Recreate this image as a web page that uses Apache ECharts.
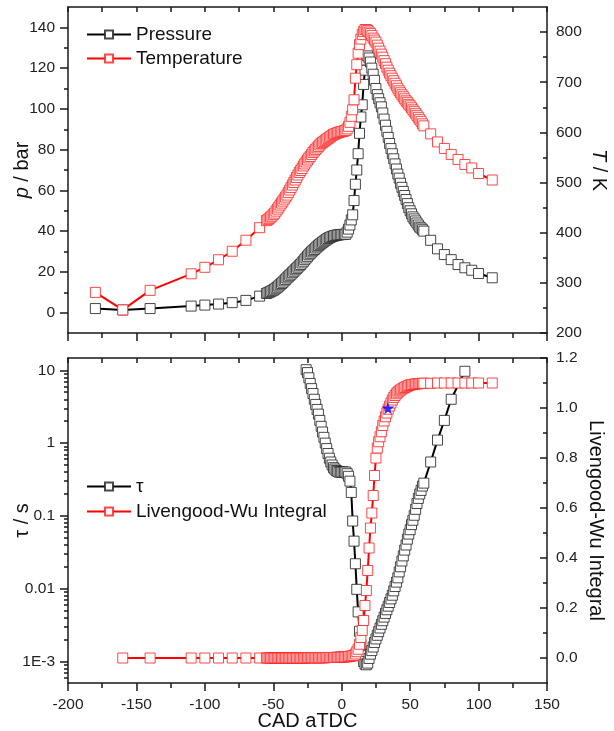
<!DOCTYPE html>
<html>
<head>
<meta charset="utf-8">
<script src="https://cdn.jsdelivr.net/npm/echarts@6/dist/echarts.min.js"></script>
<style>
  html, body { margin: 0; padding: 0; background: #fff; }
  #main { width: 614px; height: 731px; }
</style>
</head>
<body>
<div id="main"></div>
<script>
// crank angle (deg aTDC) for pressure / temperature
var cadTop = [-180, -160, -140, -110, -100, -90, -80, -70, -60,
  -55, -54, -53, -52, -51, -50, -49, -48, -47, -46,
  -45, -44, -43, -42, -41, -40, -39, -38, -37, -36,
  -35, -34, -33, -32, -31, -30, -29, -28, -27, -26,
  -25, -24, -23, -22, -21, -20, -19, -18, -17, -16,
  -15, -14, -13, -12, -11, -10, -9, -8, -7, -6,
  -5, -4, -3, -2, -1, 0,
  1, 2, 3, 4, 5, 6, 7, 8, 9, 10,
  11, 12, 13, 14, 15, 16, 17, 18, 19, 20,
  21, 22, 23, 24, 25, 26, 27, 28, 29, 30,
  31, 32, 33, 34, 35, 36, 37, 38, 39, 40,
  41, 42, 43, 44, 45, 46, 47, 48, 49, 50,
  51, 52, 53, 54, 55, 56, 57, 58, 59, 60,
  65, 70, 75, 80, 85, 90, 95, 100, 110];

var pressureBar = [2.0, 1.3, 2.0, 3.2, 3.7, 4.2, 4.9, 6.0, 8.1,
  9.4, 9.7, 10.0, 10.3, 10.7, 11.0, 11.5, 12.0, 12.5, 13.1,
  13.7, 14.3, 14.9, 15.6, 16.3, 17.0, 17.6, 18.3, 18.9, 19.6,
  20.3, 21.0, 21.6, 22.3, 23.0, 23.6, 24.4, 25.2, 26.0, 26.8,
  27.6, 28.4, 29.1, 29.8, 30.4, 31.0, 31.7, 32.3, 32.9, 33.5,
  34.0, 34.5, 35.0, 35.5, 36.0, 36.4, 36.8, 37.1, 37.4, 37.6,
  37.8, 38.0, 38.1, 38.2, 38.3, 38.3,
  38.4, 38.4, 38.5, 39.5, 41.0, 43.0, 45.5, 48.0, 55.0, 63.0,
  70, 78, 88, 96, 102, 112, 119, 124, 126, 125,
  123, 120, 117, 114, 110, 107, 105, 103, 101, 98,
  95, 92, 89, 86, 83, 80.5, 78, 75.5, 73, 70.5,
  68, 66, 63.5, 61.5, 59.5, 57.5, 55.5, 53.5, 51.5, 50,
  48.5, 47, 46, 45, 44, 43, 42, 41.5, 40.7, 40,
  35.5, 31.3, 28.5, 26.0, 23.6, 22.0, 20.8, 19.2, 17.1];

var temperatureK = [281, 246, 285, 318, 331, 346, 363, 385, 410,
  424, 426, 428, 431, 433, 436, 439, 443, 447, 451,
  455, 459, 463, 467, 471, 475, 480, 485, 490, 495,
  500, 505, 510, 515, 520, 524, 528, 533, 537, 541,
  545, 549, 552, 556, 560, 563, 566, 569, 572, 575,
  578, 580, 582, 584, 586, 588, 590, 592, 594, 596,
  597, 598, 599, 600, 601, 602,
  602, 603, 604, 607, 612, 620, 632, 645, 665, 708,
  735, 758, 775, 786, 795, 801, 805, 805, 803, 800,
  797, 793, 788, 784, 780, 774, 768, 762, 756, 750,
  743, 737, 730, 724, 718, 713, 708, 703, 698, 693,
  688, 683, 679, 675, 671, 667, 663, 660, 656, 653,
  649, 645, 642, 638, 634, 630, 626, 622, 617, 613,
  597, 581, 568, 556, 546, 536, 529, 518, 505];

// ignition delay
var cadTau = [-26, -25, -24, -23, -22, -21, -20, -19, -18, -17,
  -16, -15, -14, -13, -12, -11, -10, -9, -8, -7,
  -6, -5, -4, -3, -2, -1, 0, 1, 2, 3,
  4, 5, 6, 7, 8, 9, 10, 11, 12, 13,
  14, 15, 16, 17, 18, 19, 20, 21, 22, 23,
  24, 25, 26, 27, 28, 29, 30, 31, 32, 33,
  34, 35, 36, 37, 38, 39, 40, 41, 42, 43,
  44, 45, 46, 47, 48, 49, 50, 51, 52, 53,
  54, 55, 56, 57, 58, 59, 60,
  65, 70, 75, 80, 90];

var tauSec = [10.2, 9.3, 7.9, 6.6, 5.6, 4.8, 4.0, 3.4, 2.9, 2.5,
  2.05, 1.7, 1.42, 1.2, 1.0, 0.84, 0.72, 0.62, 0.55, 0.5,
  0.46, 0.44, 0.42, 0.41, 0.40, 0.40, 0.40, 0.40, 0.40, 0.40,
  0.38, 0.35, 0.30, 0.21, 0.085, 0.045, 0.022, 0.0098, 0.0048, 0.0026,
  0.0017, 0.0012, 0.001, 0.00092, 0.0009, 0.00095, 0.0011, 0.00126, 0.00141, 0.00158,
  0.00182, 0.00204, 0.00229, 0.00257, 0.00288, 0.00324, 0.00363, 0.00407, 0.00457, 0.00513,
  0.00575, 0.00646, 0.00724, 0.00813, 0.00933, 0.0107, 0.0123, 0.0141, 0.017, 0.02,
  0.024, 0.0282, 0.0339, 0.0398, 0.0479, 0.0562, 0.0646, 0.0759, 0.0871, 0.102,
  0.123, 0.148, 0.174, 0.2, 0.224, 0.257, 0.282,
  0.55, 1.1, 2.05, 4.0, 9.7];

// Livengood-Wu integral
var cadLW = [-160, -140, -110, -100, -90, -80, -70, -60,
  -55, -54, -53, -52, -51, -50, -49, -48, -47, -46,
  -45, -44, -43, -42, -41, -40, -39, -38, -37, -36,
  -35, -34, -33, -32, -31, -30, -29, -28, -27, -26,
  -25, -24, -23, -22, -21, -20, -19, -18, -17, -16,
  -15, -14, -13, -12, -11, -10, -9, -8, -7, -6,
  -5, -4, -3, -2, -1, 0,
  1, 2, 3, 4, 5, 6, 7, 8, 9, 10,
  11, 12, 13, 14, 15, 16, 17, 18, 19, 20,
  21, 22, 23, 24, 25, 26, 27, 28, 29, 30,
  31, 32, 33, 34, 35, 36, 37, 38, 39, 40,
  41, 42, 43, 44, 45, 46, 47, 48, 49, 50,
  51, 52, 53, 54, 55, 56, 57, 58, 59, 60,
  65, 70, 75, 80, 85, 90, 95, 100, 110];

var lwIntegral = [0, 0, 0, 0, 0, 0, 0, 0,
  0, 0, 0, 0, 0, 0, 0, 0, 0, 0,
  0, 0, 0, 0, 0, 0, 0, 0, 0, 0,
  0, 0, 0, 0, 0, 0, 0, 0, 0, 0.001,
  0.001, 0.001, 0.001, 0.001, 0.001, 0.001, 0.001, 0.001, 0.001, 0.001,
  0.001, 0.001, 0.001, 0.001, 0.002, 0.002, 0.002, 0.002, 0.002, 0.002,
  0.002, 0.003, 0.003, 0.003, 0.003, 0.004,
  0.004, 0.004, 0.005, 0.005, 0.006, 0.007, 0.008, 0.009, 0.01, 0.016,
  0.025, 0.035, 0.055, 0.082, 0.11, 0.15, 0.21, 0.27, 0.35, 0.44,
  0.52, 0.58, 0.65, 0.73, 0.8, 0.84, 0.865, 0.885, 0.905, 0.93,
  0.948, 0.965, 0.98, 0.995, 1.008, 1.02, 1.032, 1.042, 1.05, 1.057,
  1.063, 1.068, 1.072, 1.076, 1.079, 1.082, 1.085, 1.087, 1.09, 1.092,
  1.093, 1.094, 1.095, 1.096, 1.097, 1.097, 1.098, 1.098, 1.099, 1.099,
  1.099, 1.1, 1.1, 1.1, 1.1, 1.1, 1.1, 1.1, 1.1];

var ignitionPoint = [33.8, 1.0];

// tick labels
var pTicks = [0, 20, 40, 60, 80, 100, 120, 140];
var pMinor = [10, 30, 50, 70, 90, 110, 130];
var tTicks = [200, 300, 400, 500, 600, 700, 800];
var tMinor = [250, 350, 450, 550, 650, 750];
var tauTicks = [0.001, 0.01, 0.1, 1, 10];
var tauTickLabels = ['1E-3', '0.01', '0.1', '1', '10'];
var lwTicks = [0, 0.2, 0.4, 0.6, 0.8, 1.0, 1.2];
var lwMinor = [0.1, 0.3, 0.5, 0.7, 0.9, 1.1];

var tauMinor = [];
[0.0001, 0.001, 0.01, 0.1, 1].forEach(function (dec) {
  for (var k = 2; k <= 9; k++) {
    var v = dec * k;
    if (v > 0.00051 && v < 14.7) tauMinor.push(v);
  }
});

var FONT = '"Liberation Sans", Arial, sans-serif';
var AX = '#1a1a1a';
var lineSt = { color: AX, width: 1.5 };

function pairs(xs, ys) {
  return xs.map(function (x, i) { return [x, ys[i]]; });
}

function xAx(grid, pos, withLabel) {
  var inside = pos === 'top';
  return {
    type: 'value', gridIndex: grid, position: pos,
    min: -200, max: 150, interval: 50,
    axisLine: { show: true, onZero: false, lineStyle: lineSt },
    axisTick: { show: true, inside: inside, length: inside ? 5 : 8, lineStyle: lineSt },
    minorTick: { show: true, splitNumber: 2, length: 5, lineStyle: lineSt },
    axisLabel: { show: withLabel, margin: 14, fontSize: 15.5, fontFamily: FONT, color: '#222' },
    splitLine: { show: false },
    name: withLabel ? 'CAD aTDC' : '',
    nameLocation: 'middle', nameGap: 28, nameMoveOverlap: false,
    nameTextStyle: { fontSize: 20, fontFamily: FONT, color: '#111' }
  };
}

function yMain(grid, pos, type, min, max, ticks, fmt, name, rich, gap) {
  var right = pos === 'right';
  return {
    type: type, gridIndex: grid, position: pos, min: min, max: max,
    axisLine: { show: true, onZero: false, lineStyle: lineSt },
    axisTick: { show: true, inside: right, length: right ? 7 : 8, customValues: ticks, lineStyle: lineSt },
    axisLabel: { customValues: ticks, formatter: fmt, margin: right ? 9 : 13,
      fontSize: 15.5, fontFamily: FONT, color: '#222' },
    splitLine: { show: false },
    name: name, nameLocation: 'middle', nameGap: gap, nameRotate: right ? -90 : 90,
    nameMoveOverlap: false,
    nameTextStyle: { fontSize: 20, fontFamily: FONT, color: '#111', rich: rich }
  };
}

function yMinor(grid, pos, type, min, max, ticks) {
  var right = pos === 'right';
  return {
    type: type, gridIndex: grid, position: pos, min: min, max: max,
    axisLine: { show: false, onZero: false },
    axisTick: { show: true, inside: right, length: 4, customValues: ticks, lineStyle: lineSt },
    axisLabel: { show: false },
    splitLine: { show: false }
  };
}

var italic = { it: { fontStyle: 'italic', fontSize: 20, fontFamily: FONT, color: '#111' } };

function tauFmt(v) {
  var e = Math.round(Math.log10(v));
  for (var i = 0; i < tauTicks.length; i++) {
    if (Math.round(Math.log10(tauTicks[i])) === e) return tauTickLabels[i];
  }
  return '';
}

var blackSym = { color: '#fff', borderColor: 'rgba(40,40,40,0.85)', borderWidth: 1 };
var redSym = { color: '#fff', borderColor: 'rgba(255,40,40,0.85)', borderWidth: 1 };

var legendText = { fontSize: 19, fontFamily: FONT, color: '#111' };

var option = {
  animation: false,
  backgroundColor: '#fff',
  grid: [
    { left: 68, top: 7, width: 479, height: 326, outerBoundsMode: 'none', containLabel: false },
    { left: 68, top: 358, width: 479, height: 325, outerBoundsMode: 'none', containLabel: false }
  ],
  legend: [
    { data: ['Pressure', 'Temperature'], orient: 'vertical', left: 86, top: 25,
      itemWidth: 44, itemHeight: 10, itemGap: 5, padding: 0, textStyle: legendText },
    { data: ['τ', 'Livengood-Wu Integral'], orient: 'vertical', left: 86, top: 477,
      itemWidth: 44, itemHeight: 10, itemGap: 6, padding: 0, textStyle: legendText }
  ],
  xAxis: [
    xAx(0, 'bottom', false),
    xAx(0, 'top', false),
    xAx(1, 'bottom', true),
    xAx(1, 'top', false)
  ],
  yAxis: [
    yMain(0, 'left', 'value', -10, 150, pTicks, function (v) { return String(v); },
      '{it|p} / bar', italic, 36),
    yMinor(0, 'left', 'value', -10, 150, pMinor),
    yMain(0, 'right', 'value', 200, 850, tTicks, function (v) { return String(v); },
      '{it|T} / K', italic, 42),
    yMinor(0, 'right', 'value', 200, 850, tMinor),
    yMain(1, 'left', 'log', 0.000506, 14.76, tauTicks, tauFmt, 'τ / s', italic, 36),
    yMinor(1, 'left', 'log', 0.000506, 14.76, tauMinor),
    yMain(1, 'right', 'value', -0.1, 1.2, lwTicks, function (v) { return v.toFixed(1); },
      'Livengood-Wu Integral', italic, 39),
    yMinor(1, 'right', 'value', -0.1, 1.2, lwMinor)
  ],
  series: [
    { name: 'Pressure', type: 'line', xAxisIndex: 0, yAxisIndex: 0,
      data: pairs(cadTop, pressureBar), symbol: 'rect', symbolSize: 10, showAllSymbol: true,
      lineStyle: { color: '#000', width: 2 }, itemStyle: blackSym },
    { name: 'Temperature', type: 'line', xAxisIndex: 0, yAxisIndex: 2,
      data: pairs(cadTop, temperatureK), symbol: 'rect', symbolSize: 10, showAllSymbol: true,
      lineStyle: { color: '#ff0000', width: 2 }, itemStyle: redSym },
    { name: 'τ', type: 'line', xAxisIndex: 2, yAxisIndex: 4,
      data: pairs(cadTau, tauSec), symbol: 'rect', symbolSize: 10, showAllSymbol: true,
      lineStyle: { color: '#000', width: 2 }, itemStyle: blackSym },
    { name: 'Livengood-Wu Integral', type: 'line', xAxisIndex: 2, yAxisIndex: 6,
      data: pairs(cadLW, lwIntegral), symbol: 'rect', symbolSize: 10, showAllSymbol: true,
      lineStyle: { color: '#ff0000', width: 2 }, itemStyle: redSym },
    { name: 'ignition', type: 'scatter', xAxisIndex: 2, yAxisIndex: 6,
      data: [ignitionPoint], z: 5,
      symbol: 'path://M50,0 L61,35 L98,35 L68,57 L79,91 L50,70 L21,91 L32,57 L2,35 L39,35 Z',
      symbolSize: 13, itemStyle: { color: '#0000ff' } }
  ]
};

var myChart = echarts.init(document.getElementById('main'));
myChart.setOption(option);
</script>
</body>
</html>
